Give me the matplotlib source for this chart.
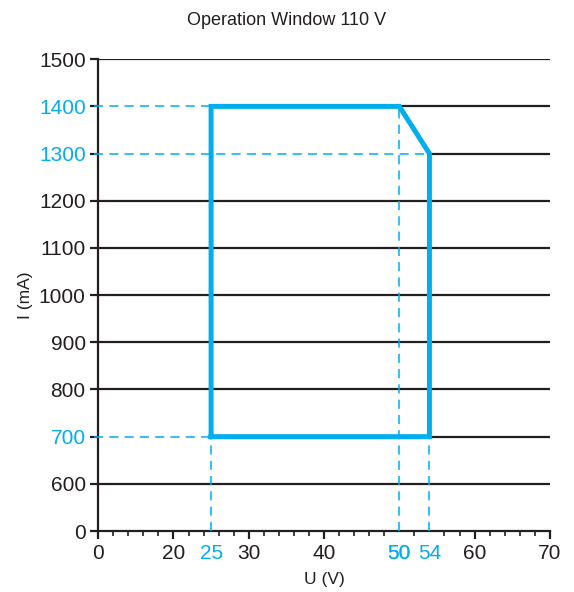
import matplotlib
matplotlib.use("Agg")
import matplotlib.pyplot as plt
import numpy as np

plt.rcParams['font.family'] = ['Liberation Sans', 'DejaVu Sans']

BLUE = '#00AEEF'

# operating window corners (U in V, I in mA)
window_u = [25, 25, 50, 54, 54, 25]
window_i = [700, 1400, 1400, 1300, 700, 700]

x_ticks = [0, 20, 30, 40, 50, 60, 70]
x_marks = [25, 50, 54]          # highlighted voltages
y_ticks = [0, 600, 700, 800, 900, 1000, 1100, 1200, 1300, 1400, 1500]
y_marks = [700, 1300, 1400]     # highlighted currents


# broken axes: 0-20 V squeezed into one step, 0-600 mA likewise
def tx(u):
    u = np.asarray(u, dtype=float)
    return np.where(u <= 20, u / 20, 1 + (u - 20) / 10)


def ty(i):
    i = np.asarray(i, dtype=float)
    return np.where(i <= 600, i / 600, 1 + (i - 600) / 100)


fig = plt.figure(figsize=(5.74, 5.92), dpi=100)
ax = fig.add_axes([0.171, 0.103, 0.787, 0.797])

xmax, ymax = float(tx(70)), float(ty(1500))
ax.set_xlim(0, xmax)
ax.set_ylim(0, ymax)

# black grid lines (the highlighted ones only right of the window)
right_edge = {700: 54, 1300: 54, 1400: 50}
for v in y_ticks[1:]:
    x0 = float(tx(right_edge[v])) if v in right_edge else 0
    ax.plot([x0, xmax], [ty(v), ty(v)], color='#231f20', lw=1.6, zorder=2)

# dashed guides
dash = dict(color=BLUE, lw=1.1, ls=(0, (6, 4)), zorder=3, clip_on=False)
ax.plot([-0.05, tx(25)], [ty(1400), ty(1400)], **dash)
ax.plot([-0.05, tx(54)], [ty(1300), ty(1300)], **dash)
ax.plot([-0.05, tx(25)], [ty(700), ty(700)], **dash)
ax.plot([tx(25), tx(25)], [0, ty(700)], **dash)
ax.plot([tx(50), tx(50)], [0, ty(1400)], **dash)
ax.plot([tx(54), tx(54)], [0, ty(700)], **dash)

# the window
ax.plot(tx(window_u), ty(window_i), color=BLUE, lw=3.6,
        solid_joinstyle='miter', zorder=4)

for s in ['top', 'right']:
    ax.spines[s].set_visible(False)
for s in ['left', 'bottom']:
    ax.spines[s].set_linewidth(1.6)
    ax.spines[s].set_color('#231f20')

xt = sorted(x_ticks + x_marks)
ax.set_xticks(tx(xt))
ax.set_xticklabels([str(v) for v in xt])
ax.set_xticks(np.arange(0, xmax + 0.01, 0.2), minor=True)
ax.set_yticks(ty(y_ticks))
ax.set_yticklabels([str(v) for v in y_ticks])

ax.tick_params(axis='both', which='major', labelsize=15, length=6, width=1.6,
               color='#231f20', labelcolor='#231f20', pad=3)
ax.tick_params(axis='x', which='minor', length=3.5, width=1.2, color='#231f20')
for lab, v in zip(ax.get_xticklabels(), xt):
    if v in x_marks:
        lab.set_color(BLUE)
for t, v in zip(ax.xaxis.get_major_ticks(), xt):
    if v in x_marks:
        t.tick1line.set_visible(False)
for lab, v in zip(ax.get_yticklabels(), y_ticks):
    if v in y_marks:
        lab.set_color(BLUE)

ax.set_xlabel('U (V)', fontsize=12.5, color='#231f20', labelpad=7)
ax.set_ylabel('I (mA)', fontsize=12.5, color='#231f20', labelpad=4)
fig.text(0.5, 0.965, 'Operation Window 110 V', ha='center', va='center',
         fontsize=13, color='#231f20')

fig.savefig('out.png', dpi=100)
